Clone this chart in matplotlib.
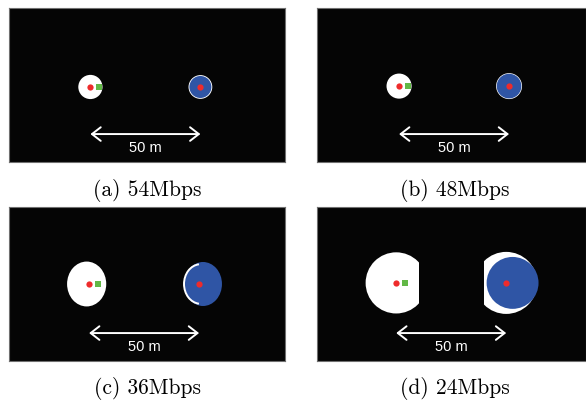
import matplotlib
matplotlib.use("Agg")
import matplotlib.pyplot as plt
from matplotlib.patches import Ellipse, Rectangle, Arc

# ---- data (metres) ----
captions = ["(a) 54Mbps", "(b) 48Mbps", "(c) 36Mbps", "(d) 24Mbps"]
ap1_x = [37.0, 37.3, 36.4, 36.0]
ap_y = [34.1, 34.5, 35.0, 35.5]
ap_sep = 50.0
green_dx = 4.1
# white region around AP1: centre offset, half-width, half-height, right clip offset
w1_dx = [0.0, 0.0, -1.1, 0.0]
w1_rx = [5.5, 5.7, 8.9, 13.9]
w1_ry = [5.5, 5.7, 10.2, 13.9]
w1_clip = [None, None, None, 10.2]
# blue region around AP2
b_dx = [0.0, 0.0, 1.8, 2.9]
b_rx = [5.0, 5.6, 8.6, 11.8]
b_ry = [5.0, 5.6, 10.0, 11.8]
# white region behind AP2
w2_rx = [5.4, 5.9, 0.0, 14.1]
w2_clip_left = [None, None, None, -10.0]
arrow_y = 12.7
label_y = 6.4
dist_label = "50 m"

PX = 586.0
PY = 400.0
scale = 2.2  # px per metre
# panel boxes in px (left, top, width, height)
boxes = [(9, 8, 276, 154), (317, 8, 269, 154), (9, 207, 276, 154), (317, 207, 269, 154)]
cap_y = [190, 190, 388, 388]

BLUE = "#2f55a5"
RED = "#ee2b2b"
GREEN = "#62b846"

fig = plt.figure(figsize=(PX / 100, PY / 100), dpi=100)
fig.patch.set_facecolor("white")

for i in range(4):
    l, t, w, h = boxes[i]
    ax = fig.add_axes([l / PX, (PY - t - h) / PY, w / PX, h / PY])
    ax.set_facecolor("#050505")
    ax.set_xlim(0, w / scale)
    ax.set_ylim(0, h / scale)
    ax.set_xticks([])
    ax.set_yticks([])
    for s in ax.spines.values():
        s.set_color("#707070")
        s.set_linewidth(0.8)

    x1 = ap1_x[i]
    x2 = x1 + ap_sep
    y = ap_y[i]

    # white region at AP1
    e = Ellipse((x1 + w1_dx[i], y), 2 * w1_rx[i], 2 * w1_ry[i], color="white", zorder=2, lw=0)
    ax.add_patch(e)
    if w1_clip[i] is not None:
        clip = Rectangle((x1 - 100, y - 100), 100 + w1_clip[i], 200, transform=ax.transData)
        e.set_clip_path(clip)

    # white region behind AP2
    if w2_rx[i] > 0:
        e2 = Ellipse((x2, y), 2 * w2_rx[i], 2 * w2_rx[i], color="white", zorder=2, lw=0)
        ax.add_patch(e2)
        if w2_clip_left[i] is not None:
            clip2 = Rectangle((x2 + w2_clip_left[i], y - 100), 100, 200, transform=ax.transData)
            e2.set_clip_path(clip2)

    # blue region at AP2
    ax.add_patch(Ellipse((x2 + b_dx[i], y), 2 * b_rx[i], 2 * b_ry[i], color=BLUE, zorder=3, lw=0))
    if w2_rx[i] == 0:
        ax.add_patch(Arc((x2 + b_dx[i] * 0.4, y), 2 * b_rx[i] * 0.88, 2 * b_ry[i] * 0.9,
                         theta1=95, theta2=265, color="white", lw=1.4, zorder=4))

    # APs and station
    ax.plot([x1, x2], [y, y], "o", color=RED, ms=4.5, mew=0, zorder=5)
    ax.plot([x1 + green_dx], [y], "s", color=GREEN, ms=4.5, mew=0, zorder=5)

    # distance arrow
    ax.annotate("", xy=(x2, arrow_y), xytext=(x1, arrow_y),
                arrowprops=dict(arrowstyle="<->,head_length=0.45,head_width=0.35",
                                color="white", lw=1.4, mutation_scale=14, shrinkA=0, shrinkB=0),
                zorder=6)
    ax.text((x1 + x2) / 2, label_y, dist_label, color="white", ha="center", va="center",
            fontsize=10.5, family="Liberation Sans", zorder=6)

    fig.text((l + 276 / 2) / PX, 1 - cap_y[i] / PY, captions[i],
             ha="center", va="center", fontsize=15.5, family="cmr10")

fig.savefig("out.png", dpi=100)
